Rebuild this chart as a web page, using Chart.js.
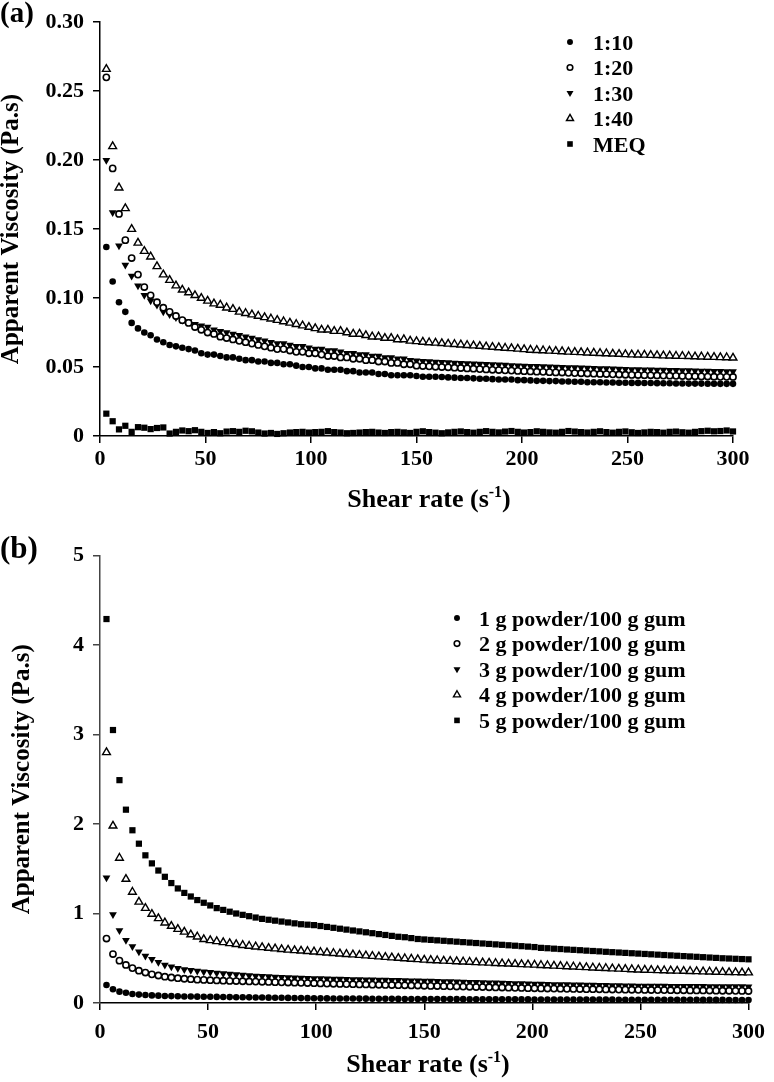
<!DOCTYPE html>
<html>
<head>
<meta charset="utf-8">
<script src="https://cdn.jsdelivr.net/npm/chart.js@4.4.1/dist/chart.umd.min.js"></script>
<style>
  body { margin: 0; background: #fff; }
  #wrap { position: relative; width: 774px; height: 1082px; }
  canvas { position: absolute; left: 0; }
</style>
</head>
<body>
<div id="wrap">
  <canvas id="chartA" width="774" height="530" style="top:0"></canvas>
  <canvas id="chartB" width="774" height="552" style="top:530px"></canvas>
</div>
<script>
// shear rate (1/s), shared by every series
const shearRate = [
  3, 6, 9, 12, 15, 18, 21, 24, 27, 30,
  33, 36, 39, 42, 45, 48, 51, 54, 57, 60,
  63, 66, 69, 72, 75, 78, 81, 84, 87, 90,
  93, 96, 99, 102, 105, 108, 111, 114, 117, 120,
  123, 126, 129, 132, 135, 138, 141, 144, 147, 150,
  153, 156, 159, 162, 165, 168, 171, 174, 177, 180,
  183, 186, 189, 192, 195, 198, 201, 204, 207, 210,
  213, 216, 219, 222, 225, 228, 231, 234, 237, 240,
  243, 246, 249, 252, 255, 258, 261, 264, 267, 270,
  273, 276, 279, 282, 285, 288, 291, 294, 297, 300
];

// panel (a): ratios
const labelsA = ["1:10", "1:20", "1:30", "1:40", "MEQ"];
const visc110 = [
  .137, .112, .097, .090, .082, .078, .075, .073, .070, .068,
  .066, .065, .064, .063, .062, .060, .059, .059, .058, .057,
  .057, .056, .055, .055, .054, .054, .053, .053, .052, .052,
  .051, .050, .050, .049, .049, .048, .048, .048, .047, .047,
  .046, .046, .046, .045, .045, .044, .044, .044, .044, .0435,
  .043, .043, .043, .0428, .0425, .0423, .042, .042, .0418, .0415,
  .0415, .0412, .041, .041, .041, .0405, .0405, .0403, .040, .040,
  .0398, .0398, .0395, .0395, .0393, .0393, .039, .039, .039, .0388,
  .0388, .0386, .0386, .0385, .0385, .0384, .0384, .0383, .0382, .0382,
  .0381, .0381, .038, .038, .038, .0379, .0379, .0378, .0378, .0378
];
const visc120 = [
  .260, .194, .161, .142, .129, .117, .108, .102, .097, .093,
  .090, .087, .084, .082, .079, .077, .075, .074, .072, .071,
  .070, .069, .068, .067, .066, .065, .064, .063, .063, .062,
  .061, .061, .060, .060, .059, .058, .058, .057, .057, .056,
  .056, .055, .055, .054, .054, .053, .053, .052, .052, .051,
  .0507, .0505, .0502, .050, .0498, .0495, .0493, .049, .0488, .0485,
  .0483, .048, .0478, .0476, .0474, .0472, .047, .0468, .0466, .0465,
  .0463, .0461, .046, .0458, .0456, .0455, .0453, .0452, .045, .0449,
  .0447, .0446, .0444, .0443, .0442, .0441, .044, .0439, .0438, .0437,
  .0436, .0435, .0434, .0433, .0432, .0431, .043, .0429, .0429, .0428
];
const visc130 = [
  .200, .162, .138, .124, .116, .109, .102, .098, .095, .090,
  .088, .086, .084, .083, .081, .080, .079, .077, .076, .075,
  .074, .073, .072, .071, .070, .069, .068, .067, .067, .066,
  .065, .065, .064, .063, .063, .062, .062, .061, .060, .060,
  .059, .059, .058, .058, .057, .057, .056, .056, .055, .0545,
  .0542, .054, .0537, .0535, .0533, .053, .0528, .0526, .0524, .0522,
  .052, .0518, .0516, .0514, .0512, .051, .0508, .0506, .0505, .0503,
  .0502, .050, .0499, .0497, .0496, .0494, .0493, .0491, .049, .0489,
  .0487, .0486, .0484, .0483, .0482, .0481, .048, .0479, .0478, .0477,
  .0476, .0475, .0474, .0473, .0472, .0471, .047, .0469, .0468, .0467
];
const visc140 = [
  .266, .210, .180, .165, .150, .140, .134, .130, .123, .117,
  .113, .109, .106, .104, .102, .100, .098, .096, .095, .093,
  .092, .090, .089, .088, .087, .086, .085, .084, .083, .082,
  .081, .080, .079, .078, .077, .077, .076, .076, .075, .074,
  .074, .073, .072, .072, .071, .071, .070, .070, .069, .0686,
  .0682, .0678, .0675, .0672, .0668, .0665, .0662, .0658, .0655, .0652,
  .0648, .0645, .0642, .0638, .0635, .0632, .0628, .0624, .0622, .062,
  .0617, .0615, .0613, .061, .0608, .0606, .0604, .0602, .060, .0598,
  .0596, .0594, .0592, .059, .0589, .0588, .0586, .0585, .0583, .0582,
  .058, .0579, .0578, .0576, .0575, .0573, .0572, .057, .0569, .0567
];
const viscMEQ = [
  .0162, .0107, .0048, .0074, .0030, .0064, .0060, .0050, .0058, .0062,
  .0018, .0030, .0040, .0035, .0042, .0030, .0022, .0028, .0020, .0032,
  .0035, .0030, .0038, .0034, .0025, .0018, .0022, .0015, .0020, .0025,
  .0028, .0030, .0025, .0028, .0030, .0035, .0028, .0025, .0020, .0022,
  .0025, .0028, .0030, .0025, .0022, .0028, .0030, .0026, .0022, .0030,
  .0034, .0028, .0024, .0020, .0026, .0030, .0033, .0028, .0024, .0030,
  .0035, .0030, .0026, .0032, .0036, .0030, .0025, .0028, .0034, .0030,
  .0026, .0024, .0030, .0036, .0032, .0028, .0025, .0030, .0034, .0028,
  .0024, .0030, .0033, .0027, .0022, .0026, .0030, .0028, .0024, .0030,
  .0032, .0027, .0024, .0030, .0035, .0038, .0034, .0036, .0040, .0033
];

// panel (b): powder concentrations
const labelsB = [
  "1 g powder/100 g gum", "2 g powder/100 g gum", "3 g powder/100 g gum",
  "4 g powder/100 g gum", "5 g powder/100 g gum"
];
const visc1g = [
  .201, .153, .127, .115, .100, .094, .089, .085, .082, .079,
  .077, .075, .073, .072, .071, .070, .069, .068, .067, .066,
  .065, .064, .063, .062, .061, .060, .059, .058, .057, .056,
  .055, .054, .053, .052, .0515, .051, .0505, .050, .0495, .049,
  .0485, .048, .0475, .047, .0465, .046, .0455, .045, .0448, .0445,
  .0442, .044, .0437, .0434, .0431, .0428, .0425, .0422, .042, .0417,
  .0414, .0411, .0408, .0406, .0403, .040, .0398, .0396, .0393, .0391,
  .0389, .0386, .0384, .0382, .038, .0378, .0376, .0374, .0372, .037,
  .0368, .0366, .0364, .0362, .036, .0359, .0357, .0356, .0354, .0353,
  .0351, .035, .0348, .0347, .0345, .0344, .0342, .0341, .034, .0338
];
const visc2g = [
  .720, .547, .473, .425, .390, .361, .340, .320, .307, .294,
  .285, .277, .271, .266, .261, .258, .255, .252, .249, .247,
  .245, .243, .241, .239, .237, .235, .233, .231, .229, .227,
  .225, .223, .221, .219, .217, .215, .213, .211, .210, .208,
  .207, .205, .204, .202, .201, .199, .198, .196, .195, .193,
  .191, .190, .188, .186, .184, .183, .181, .179, .178, .176,
  .174, .173, .171, .169, .168, .166, .164, .163, .162, .161,
  .160, .158, .157, .156, .155, .154, .153, .152, .151, .150,
  .149, .148, .147, .146, .145, .144, .144, .143, .142, .142,
  .141, .140, .140, .139, .138, .137, .137, .136, .135, .134
];
const visc3g = [
  1.40, .990, .810, .700, .630, .573, .525, .488, .455, .425,
  .405, .388, .375, .365, .357, .350, .343, .336, .330, .324,
  .318, .313, .308, .303, .299, .295, .291, .288, .285, .282,
  .279, .277, .275, .273, .271, .269, .267, .265, .263, .262,
  .260, .259, .257, .256, .254, .253, .251, .250, .248, .247,
  .245, .243, .241, .239, .237, .235, .233, .231, .229, .227,
  .225, .223, .221, .219, .217, .215, .213, .211, .210, .208,
  .207, .206, .204, .203, .201, .200, .199, .197, .196, .195,
  .193, .192, .191, .190, .190, .189, .189, .188, .188, .187,
  .187, .186, .186, .185, .185, .184, .184, .183, .183, .182
];
const visc4g = [
  2.80, 1.98, 1.62, 1.385, 1.24, 1.13, 1.06, .994, .946, .897,
  .860, .825, .795, .765, .740, .712, .700, .688, .677, .666,
  .656, .646, .637, .629, .621, .614, .607, .600, .594, .588,
  .583, .578, .573, .567, .562, .556, .551, .545, .540, .535,
  .529, .524, .518, .513, .507, .502, .497, .492, .487, .482,
  .478, .475, .471, .468, .464, .461, .458, .454, .451, .448,
  .444, .441, .438, .435, .432, .429, .426, .422, .419, .415,
  .412, .408, .405, .401, .398, .394, .391, .388, .384, .381,
  .378, .375, .372, .369, .367, .365, .363, .361, .359, .357,
  .355, .353, .351, .349, .347, .345, .343, .342, .340, .339
];
const visc5g = [
  4.29, 3.05, 2.49, 2.16, 1.93, 1.78, 1.65, 1.56, 1.48, 1.41,
  1.34, 1.28, 1.23, 1.19, 1.15, 1.12, 1.09, 1.06, 1.04, 1.02,
  1.00, .985, .970, .955, .940, .930, .920, .910, .900, .890,
  .880, .875, .870, .860, .850, .840, .830, .820, .810, .800,
  .790, .780, .770, .760, .750, .740, .735, .725, .715, .710,
  .705, .700, .695, .690, .685, .680, .675, .670, .665, .660,
  .655, .650, .645, .640, .635, .630, .625, .616, .612, .607,
  .603, .598, .594, .590, .585, .581, .577, .572, .568, .564,
  .560, .556, .552, .548, .544, .540, .536, .532, .528, .524,
  .520, .516, .512, .508, .504, .500, .497, .494, .491, .488
];

const FONT = "'Liberation Serif', 'Times New Roman', serif";

// marker looks: filled circle, open circle, filled down-triangle, open triangle, filled square
const markers = [
  { pointStyle: "circle", rotation: 0, radius: 3.3, fill: "#000", border: 0 },
  { pointStyle: "circle", rotation: 0, radius: 3.1, fill: "#fff", border: 1.6 },
  { pointStyle: "triangle", rotation: 180, radius: 4.5, fill: "#000", border: 0 },
  { pointStyle: "triangle", rotation: 0, radius: 4.5, fill: "#fff", border: 1.4 },
  { pointStyle: "rect", rotation: 0, radius: 4.4, fill: "#000", border: 0 }
];

function makeDatasets(labels, series) {
  return series.map((ys, i) => {
    const m = markers[i];
    return {
      label: labels[i],
      data: shearRate.map((x, k) => ({ x: x, y: ys[k] })),
      showLine: false,
      clip: false,
      pointStyle: m.pointStyle,
      pointRotation: m.rotation,
      pointRadius: m.radius,
      pointBackgroundColor: m.fill,
      pointBorderColor: "#000",
      pointBorderWidth: m.border
    };
  });
}

// axis titles, panel letter and legend drawn on top of the chart
const decorations = {
  id: "decorations",
  afterDraw(chart, args, opts) {
    const ctx = chart.ctx;
    const area = chart.chartArea;
    ctx.save();
    ctx.fillStyle = "#000";
    ctx.textAlign = "left";
    ctx.textBaseline = "alphabetic";

    ctx.font = `bold ${opts.panelSize}px ${FONT}`;
    ctx.fillText(opts.panel, 0, opts.panelY);

    // y title
    ctx.save();
    ctx.translate(opts.yTitleX, (area.top + area.bottom) / 2);
    ctx.rotate(-Math.PI / 2);
    ctx.textAlign = "center";
    ctx.font = `bold 25px ${FONT}`;
    ctx.fillText("Apparent Viscosity (Pa.s)", 0, 0);
    ctx.restore();

    // x title with superscript
    const main = "Shear rate (s";
    const sup = "-1";
    const end = ")";
    ctx.font = `bold 26px ${FONT}`;
    const w1 = ctx.measureText(main).width;
    const w3 = ctx.measureText(end).width;
    ctx.font = `bold 16px ${FONT}`;
    const w2 = ctx.measureText(sup).width;
    let x = opts.xTitleCenter - (w1 + w2 + w3) / 2;
    const y = area.bottom + opts.xTitleGap;
    ctx.font = `bold 26px ${FONT}`;
    ctx.fillText(main, x, y);
    x += w1;
    ctx.font = `bold 16px ${FONT}`;
    ctx.fillText(sup, x, y - 10);
    x += w2;
    ctx.font = `bold 26px ${FONT}`;
    ctx.fillText(end, x, y);

    // legend
    ctx.font = `bold 22px ${FONT}`;
    chart.data.datasets.forEach((ds, i) => {
      const ly = opts.legendY + i * opts.legendGap;
      ctx.fillStyle = ds.pointBackgroundColor;
      ctx.strokeStyle = "#000";
      ctx.lineWidth = ds.pointBorderWidth;
      Chart.helpers.drawPoint(ctx, {
        pointStyle: ds.pointStyle,
        rotation: ds.pointRotation,
        radius: ds.pointRadius * 0.9,
        borderWidth: ds.pointBorderWidth
      }, opts.legendX, ly);
      ctx.fillStyle = "#000";
      ctx.fillText(ds.label, opts.legendTextX, ly + 7.5);
    });
    ctx.restore();
  }
};

function buildChart(id, datasets, cfg) {
  const ctx = document.getElementById(id).getContext("2d");
  return new Chart(ctx, {
    type: "scatter",
    data: { datasets: datasets },
    options: {
      responsive: false,
      animation: false,
      devicePixelRatio: 1,
      layout: { padding: { left: 0, right: cfg.padRight, top: cfg.padTop, bottom: 0 } },
      plugins: {
        legend: { display: false },
        tooltip: { enabled: false },
        decorations: cfg.deco
      },
      scales: {
        x: {
          type: "linear",
          min: 0,
          max: 300,
          ticks: {
            stepSize: 50,
            color: "#000",
            padding: cfg.xTickPad,
            maxRotation: 0,
            font: { family: FONT, size: 22, weight: "bold" }
          },
          grid: { display: true, drawOnChartArea: false, tickLength: 7, color: "#000", lineWidth: 1.5 },
          border: { display: true, color: "#000", width: 1.5 },
          afterFit: (scale) => { scale.height = cfg.xAxisHeight; }
        },
        y: {
          type: "linear",
          min: 0,
          max: cfg.yMax,
          ticks: {
            stepSize: cfg.yStep,
            color: "#000",
            padding: 9,
            font: { family: FONT, size: 22, weight: "bold" },
            callback: cfg.yFormat
          },
          grid: { display: true, drawOnChartArea: false, tickLength: 7, color: cfg.yAxisColor, lineWidth: 1.5 },
          border: { display: true, color: cfg.yAxisColor, width: 1.5 },
          afterFit: (scale) => { scale.width = 100; }
        }
      }
    },
    plugins: [decorations]
  });
}

buildChart("chartA", makeDatasets(labelsA, [visc110, visc120, visc130, visc140, viscMEQ]), {
  padRight: 41,
  padTop: 16,
  xAxisHeight: 94,
  xTickPad: 3,
  yMax: 0.30,
  yStep: 0.05,
  yAxisColor: "#000",
  yFormat: (v) => (v === 0 ? "0" : v.toFixed(2)),
  deco: {
    panel: "(a)", panelSize: 29, panelY: 22,
    yTitleX: 18, xTitleCenter: 429, xTitleGap: 71,
    legendX: 570, legendTextX: 593, legendY: 42, legendGap: 25.5
  }
});

buildChart("chartB", makeDatasets(labelsB, [visc1g, visc2g, visc3g, visc4g, visc5g]), {
  padRight: 18,
  padTop: 25.5,
  xAxisHeight: 79,
  xTickPad: 9,
  yMax: 5,
  yStep: 1,
  yAxisColor: "#444",
  yFormat: (v) => String(v),
  deco: {
    panel: "(b)", panelSize: 31, panelY: 28,
    yTitleX: 29, xTitleCenter: 428, xTitleGap: 69,
    legendX: 457, legendTextX: 479, legendY: 88, legendGap: 25.6
  }
});
</script>
</body>
</html>
